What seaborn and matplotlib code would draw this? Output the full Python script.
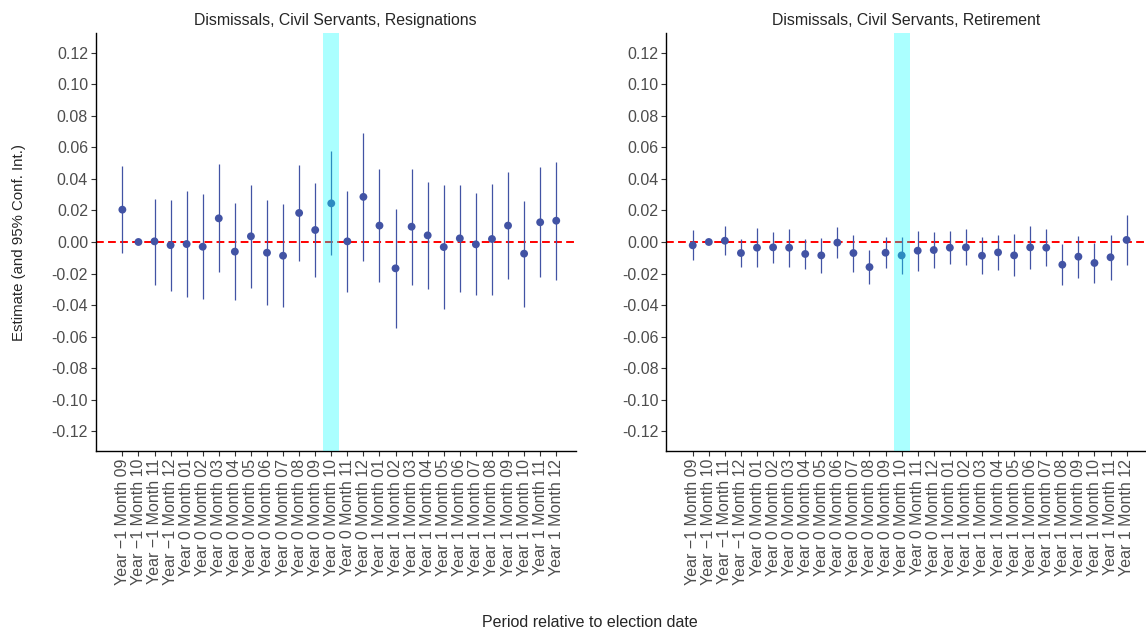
import matplotlib
matplotlib.use("Agg")
import matplotlib.pyplot as plt
import seaborn as sns
import pandas as pd

# Periods relative to the election month
periods = (
    [f"Year \u22121 Month {m:02d}" for m in range(9, 13)]
    + [f"Year 0 Month {m:02d}" for m in range(1, 13)]
    + [f"Year 1 Month {m:02d}" for m in range(1, 13)]
)
election_period = "Year 0 Month 10"

# Resignations: estimates with 95% confidence bounds
resign_est = [0.0205, 0.0000, 0.0004, -0.0020, -0.0013, -0.0030, 0.0150, -0.0061,
              0.0036, -0.0068, -0.0087, 0.0184, 0.0076, 0.0245, 0.0004, 0.0286,
              0.0104, -0.0167, 0.0097, 0.0042, -0.0032, 0.0023, -0.0015, 0.0019,
              0.0104, -0.0074, 0.0125, 0.0135]
resign_lo = [-0.0070, -0.0005, -0.0270, -0.0313, -0.0351, -0.0362, -0.0193, -0.0370,
             -0.0292, -0.0402, -0.0415, -0.0123, -0.0224, -0.0085, -0.0320, -0.0123,
             -0.0256, -0.0548, -0.0271, -0.0298, -0.0423, -0.0317, -0.0339, -0.0337,
             -0.0235, -0.0413, -0.0224, -0.0241]
resign_hi = [0.0480, 0.0005, 0.0275, 0.0269, 0.0324, 0.0305, 0.0495, 0.0246,
             0.0362, 0.0265, 0.0241, 0.0491, 0.0375, 0.0576, 0.0324, 0.0694,
             0.0463, 0.0212, 0.0461, 0.0381, 0.0360, 0.0362, 0.0309, 0.0370,
             0.0444, 0.0262, 0.0474, 0.0510]

# Retirement: estimates with 95% confidence bounds
retire_est = [-0.0021, 0.0000, 0.0008, -0.0070, -0.0036, -0.0034, -0.0036, -0.0076,
              -0.0085, -0.0004, -0.0070, -0.0159, -0.0068, -0.0085, -0.0055, -0.0051,
              -0.0036, -0.0034, -0.0087, -0.0066, -0.0085, -0.0034, -0.0036, -0.0144,
              -0.0093, -0.0133, -0.0097, 0.0013]
retire_lo = [-0.0114, -0.0005, -0.0085, -0.0159, -0.0159, -0.0133, -0.0157, -0.0171,
             -0.0195, -0.0102, -0.0188, -0.0269, -0.0167, -0.0201, -0.0184, -0.0163,
             -0.0142, -0.0148, -0.0203, -0.0178, -0.0218, -0.0169, -0.0152, -0.0275,
             -0.0226, -0.0258, -0.0239, -0.0148]
retire_hi = [0.0074, 0.0005, 0.0099, 0.0017, 0.0087, 0.0066, 0.0085, 0.0017,
             0.0023, 0.0097, 0.0044, -0.0049, 0.0032, 0.0030, 0.0072, 0.0061,
             0.0068, 0.0080, 0.0030, 0.0042, 0.0049, 0.0102, 0.0080, -0.0015,
             0.0040, -0.0004, 0.0044, 0.0171]

titles = ["Dismissals, Civil Servants, Resignations",
          "Dismissals, Civil Servants, Retirement"]
y_ticks = [-0.12, -0.10, -0.08, -0.06, -0.04, -0.02, 0.0,
           0.02, 0.04, 0.06, 0.08, 0.10, 0.12]

sns.set_style("ticks")
plt.rcParams["font.family"] = ["Liberation Sans", "DejaVu Sans"]

POINT = "#4253A4"
TICK_GREY = "#4D4D4D"

fig = plt.figure(figsize=(11.46, 6.32), dpi=100)
ax_l = fig.add_axes([0.0835, 0.2864, 0.4187, 0.6614])
ax_r = fig.add_axes([0.5812, 0.2864, 0.4187, 0.6614])

panels = [
    (ax_l, titles[0], resign_est, resign_lo, resign_hi),
    (ax_r, titles[1], retire_est, retire_lo, retire_hi),
]

for ax, title, est, lo, hi in panels:
    df = pd.DataFrame({"period": periods, "est": est, "lo": lo, "hi": hi})
    pos = list(range(len(periods)))
    ax.axhline(0, color="#FF0000", lw=1.4, ls=(0, (4, 2.2)), zorder=1)
    ax.vlines(pos, df["lo"], df["hi"], color=POINT, lw=0.9, zorder=2)
    sns.scatterplot(data=df, x="period", y="est", ax=ax, color=POINT,
                    s=32, edgecolor="none", zorder=3, legend=False)
    e = periods.index(election_period)
    ax.axvspan(e - 0.5, e + 0.5, color="#00FFFF", alpha=0.33, lw=0, zorder=4)

    ax.set_xlim(-1.66, len(periods) - 1 + 1.2)
    ax.set_ylim(-0.1325, 0.1325)
    ax.set_yticks(y_ticks)
    ax.set_yticklabels([f"{v:.2f}" for v in y_ticks])
    ax.set_xticks(pos)
    ax.set_xticklabels(periods, rotation=90)
    ax.tick_params(axis="both", labelsize=11.5, labelcolor=TICK_GREY,
                   color="#333333", length=3.5, width=0.8, pad=2)
    ax.set_xlabel("")
    ax.set_ylabel("")
    ax.set_title(title, fontsize=11.4, pad=6)
    for side in ["top", "right"]:
        ax.spines[side].set_visible(False)
    for side in ["left", "bottom"]:
        ax.spines[side].set_color("black")
        ax.spines[side].set_linewidth(1.0)

fig.text(0.515, 0.015, "Period relative to election date", ha="center",
         va="center", fontsize=11.5)
fig.text(0.017, 0.617, "Estimate (and 95% Conf. Int.)", ha="center",
         va="center", rotation=90, fontsize=10.8)

fig.savefig("out.png", dpi=100)
